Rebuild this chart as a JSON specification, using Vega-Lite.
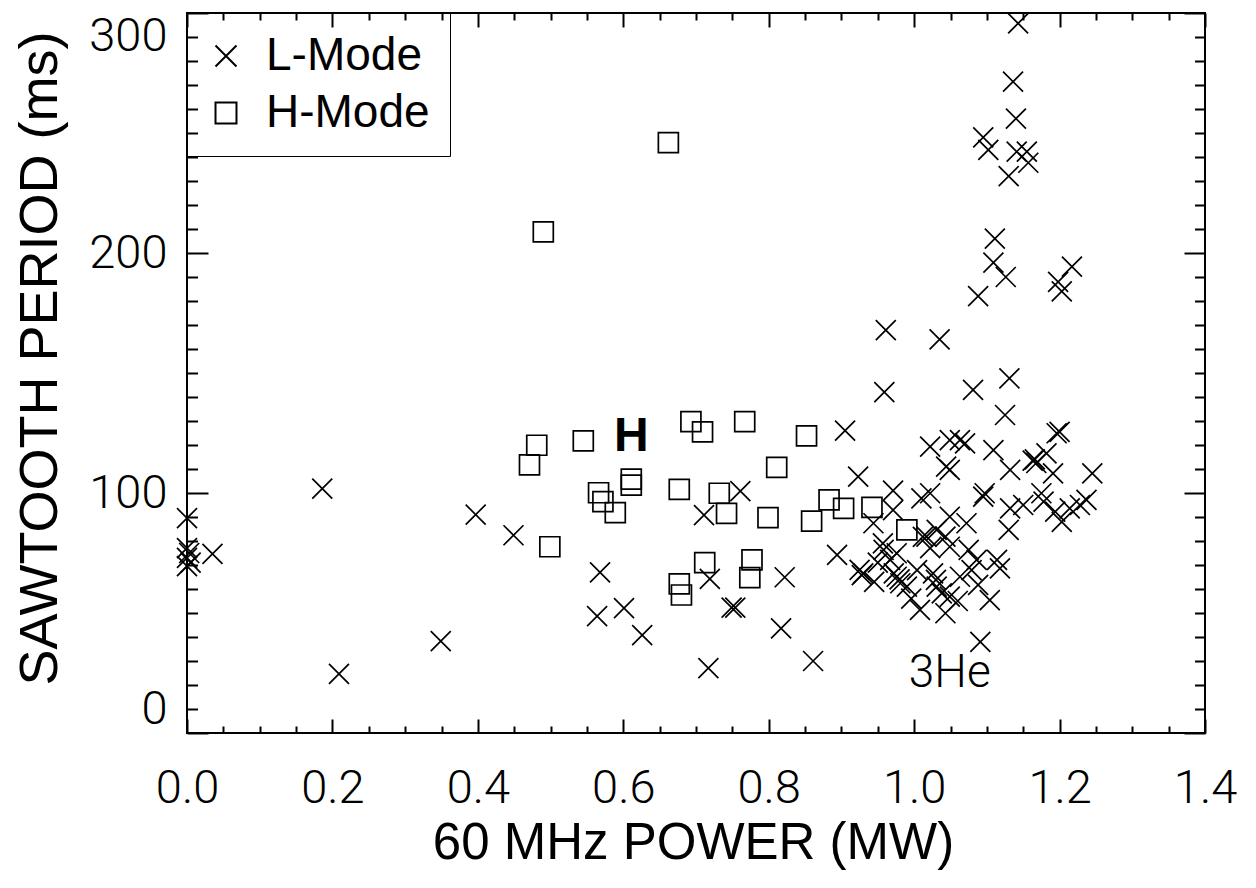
{
  "$schema": "https://vega.github.io/schema/vega-lite/v6.json",
  "width": 1018,
  "height": 720,
  "autosize": "none",
  "padding": {"left": 187, "top": 13, "right": 51, "bottom": 155},
  "background": "white",
  "config": {
    "view": {"stroke": "black", "strokeWidth": 2},
    "axis": {"grid": false, "domain": false, "tickColor": "black", "tickWidth": 2, "labelColor": "black", "titleColor": "black", "labelOverlap": false}
  },
  "datasets": {
    "points": [
      {"power": 0.0, "period": 89.5, "mode": "L-Mode"},
      {"power": 0.0, "period": 77, "mode": "L-Mode"},
      {"power": 0.003, "period": 75, "mode": "L-Mode"},
      {"power": 0.0, "period": 73, "mode": "L-Mode"},
      {"power": 0.005, "period": 71, "mode": "L-Mode"},
      {"power": 0.0, "period": 69.5, "mode": "L-Mode"},
      {"power": 0.035, "period": 74.6, "mode": "L-Mode"},
      {"power": 0.186, "period": 101.8, "mode": "L-Mode"},
      {"power": 0.209, "period": 24.6, "mode": "L-Mode"},
      {"power": 0.349, "period": 38.3, "mode": "L-Mode"},
      {"power": 0.397, "period": 91.0, "mode": "L-Mode"},
      {"power": 0.449, "period": 82.4, "mode": "L-Mode"},
      {"power": 0.568, "period": 66.9, "mode": "L-Mode"},
      {"power": 0.564, "period": 48.7, "mode": "L-Mode"},
      {"power": 0.601, "period": 52.0, "mode": "L-Mode"},
      {"power": 0.626, "period": 40.8, "mode": "L-Mode"},
      {"power": 0.711, "period": 90.8, "mode": "L-Mode"},
      {"power": 0.719, "period": 64.2, "mode": "L-Mode"},
      {"power": 0.717, "period": 27.0, "mode": "L-Mode"},
      {"power": 0.749, "period": 52.2, "mode": "L-Mode"},
      {"power": 0.754, "period": 52.2, "mode": "L-Mode"},
      {"power": 0.761, "period": 100.8, "mode": "L-Mode"},
      {"power": 0.817, "period": 43.6, "mode": "L-Mode"},
      {"power": 0.822, "period": 64.9, "mode": "L-Mode"},
      {"power": 0.861, "period": 30.0, "mode": "L-Mode"},
      {"power": 0.894, "period": 74.2, "mode": "L-Mode"},
      {"power": 0.905, "period": 126.0, "mode": "L-Mode"},
      {"power": 0.923, "period": 106.8, "mode": "L-Mode"},
      {"power": 0.928, "period": 65.8, "mode": "L-Mode"},
      {"power": 0.925, "period": 68.0, "mode": "L-Mode"},
      {"power": 0.945, "period": 63.0, "mode": "L-Mode"},
      {"power": 0.959, "period": 142.0, "mode": "L-Mode"},
      {"power": 0.961, "period": 167.9, "mode": "L-Mode"},
      {"power": 1.035, "period": 164.0, "mode": "L-Mode"},
      {"power": 1.081, "period": 143.0, "mode": "L-Mode"},
      {"power": 1.131, "period": 147.8, "mode": "L-Mode"},
      {"power": 1.125, "period": 132.5, "mode": "L-Mode"},
      {"power": 1.143, "period": 295.7, "mode": "L-Mode"},
      {"power": 1.136, "period": 271.4, "mode": "L-Mode"},
      {"power": 1.140, "period": 256.0, "mode": "L-Mode"},
      {"power": 1.095, "period": 248.2, "mode": "L-Mode"},
      {"power": 1.102, "period": 243.0, "mode": "L-Mode"},
      {"power": 1.141, "period": 242.2, "mode": "L-Mode"},
      {"power": 1.155, "period": 242.2, "mode": "L-Mode"},
      {"power": 1.157, "period": 237.6, "mode": "L-Mode"},
      {"power": 1.130, "period": 232.0, "mode": "L-Mode"},
      {"power": 1.111, "period": 206.0, "mode": "L-Mode"},
      {"power": 1.109, "period": 196.0, "mode": "L-Mode"},
      {"power": 1.126, "period": 190.0, "mode": "L-Mode"},
      {"power": 1.088, "period": 182.0, "mode": "L-Mode"},
      {"power": 1.198, "period": 188.0, "mode": "L-Mode"},
      {"power": 1.203, "period": 184.0, "mode": "L-Mode"},
      {"power": 1.217, "period": 194.3, "mode": "L-Mode"},
      {"power": 1.022, "period": 119.3, "mode": "L-Mode"},
      {"power": 1.049, "period": 122.0, "mode": "L-Mode"},
      {"power": 1.063, "period": 122.0, "mode": "L-Mode"},
      {"power": 1.070, "period": 120.7, "mode": "L-Mode"},
      {"power": 1.109, "period": 117.9, "mode": "L-Mode"},
      {"power": 1.163, "period": 113.5, "mode": "L-Mode"},
      {"power": 1.168, "period": 112.5, "mode": "L-Mode"},
      {"power": 1.166, "period": 114.0, "mode": "L-Mode"},
      {"power": 1.196, "period": 124.9, "mode": "L-Mode"},
      {"power": 1.200, "period": 125.5, "mode": "L-Mode"},
      {"power": 1.182, "period": 116.5, "mode": "L-Mode"},
      {"power": 1.132, "period": 109.6, "mode": "L-Mode"},
      {"power": 1.191, "period": 108.2, "mode": "L-Mode"},
      {"power": 1.245, "period": 108.2, "mode": "L-Mode"},
      {"power": 1.049, "period": 109.6, "mode": "L-Mode"},
      {"power": 1.044, "period": 111.0, "mode": "L-Mode"},
      {"power": 0.971, "period": 101.0, "mode": "L-Mode"},
      {"power": 1.010, "period": 97.8, "mode": "L-Mode"},
      {"power": 1.022, "period": 99.9, "mode": "L-Mode"},
      {"power": 1.097, "period": 99.9, "mode": "L-Mode"},
      {"power": 1.095, "period": 98.5, "mode": "L-Mode"},
      {"power": 1.132, "period": 93.6, "mode": "L-Mode"},
      {"power": 1.175, "period": 99.9, "mode": "L-Mode"},
      {"power": 1.150, "period": 95.0, "mode": "L-Mode"},
      {"power": 1.178, "period": 96.4, "mode": "L-Mode"},
      {"power": 1.194, "period": 92.2, "mode": "L-Mode"},
      {"power": 1.203, "period": 88.0, "mode": "L-Mode"},
      {"power": 1.214, "period": 93.6, "mode": "L-Mode"},
      {"power": 1.228, "period": 95.0, "mode": "L-Mode"},
      {"power": 1.237, "period": 97.1, "mode": "L-Mode"},
      {"power": 1.130, "period": 84.6, "mode": "L-Mode"},
      {"power": 0.944, "period": 87.4, "mode": "L-Mode"},
      {"power": 0.971, "period": 92.9, "mode": "L-Mode"},
      {"power": 0.957, "period": 79.0, "mode": "L-Mode"},
      {"power": 0.976, "period": 74.9, "mode": "L-Mode"},
      {"power": 1.012, "period": 81.7, "mode": "L-Mode"},
      {"power": 1.017, "period": 81.8, "mode": "L-Mode"},
      {"power": 1.031, "period": 84.6, "mode": "L-Mode"},
      {"power": 1.043, "period": 81.8, "mode": "L-Mode"},
      {"power": 1.049, "period": 90.1, "mode": "L-Mode"},
      {"power": 1.072, "period": 87.4, "mode": "L-Mode"},
      {"power": 1.022, "period": 77.0, "mode": "L-Mode"},
      {"power": 1.049, "period": 77.6, "mode": "L-Mode"},
      {"power": 1.075, "period": 76.3, "mode": "L-Mode"},
      {"power": 1.086, "period": 72.1, "mode": "L-Mode"},
      {"power": 1.114, "period": 72.1, "mode": "L-Mode"},
      {"power": 1.118, "period": 68.6, "mode": "L-Mode"},
      {"power": 1.079, "period": 67.9, "mode": "L-Mode"},
      {"power": 0.958, "period": 76.3, "mode": "L-Mode"},
      {"power": 0.967, "period": 72.1, "mode": "L-Mode"},
      {"power": 0.950, "period": 71.0, "mode": "L-Mode"},
      {"power": 0.930, "period": 66.5, "mode": "L-Mode"},
      {"power": 0.976, "period": 65.1, "mode": "L-Mode"},
      {"power": 0.972, "period": 66.5, "mode": "L-Mode"},
      {"power": 0.980, "period": 64.0, "mode": "L-Mode"},
      {"power": 0.981, "period": 62.4, "mode": "L-Mode"},
      {"power": 0.990, "period": 61.0, "mode": "L-Mode"},
      {"power": 0.996, "period": 56.0, "mode": "L-Mode"},
      {"power": 1.008, "period": 51.3, "mode": "L-Mode"},
      {"power": 1.004, "period": 67.9, "mode": "L-Mode"},
      {"power": 1.026, "period": 66.5, "mode": "L-Mode"},
      {"power": 1.030, "period": 63.8, "mode": "L-Mode"},
      {"power": 1.031, "period": 61.0, "mode": "L-Mode"},
      {"power": 1.038, "period": 58.2, "mode": "L-Mode"},
      {"power": 1.049, "period": 56.8, "mode": "L-Mode"},
      {"power": 1.060, "period": 55.0, "mode": "L-Mode"},
      {"power": 1.043, "period": 49.9, "mode": "L-Mode"},
      {"power": 1.063, "period": 65.1, "mode": "L-Mode"},
      {"power": 1.088, "period": 61.7, "mode": "L-Mode"},
      {"power": 1.104, "period": 55.4, "mode": "L-Mode"},
      {"power": 1.091, "period": 38.0, "mode": "L-Mode"},
      {"power": 0.662, "period": 246.0, "mode": "H-Mode"},
      {"power": 0.490, "period": 208.8, "mode": "H-Mode"},
      {"power": 0.481, "period": 119.9, "mode": "H-Mode"},
      {"power": 0.471, "period": 111.7, "mode": "H-Mode"},
      {"power": 0.545, "period": 121.7, "mode": "H-Mode"},
      {"power": 0.499, "period": 77.6, "mode": "H-Mode"},
      {"power": 0.693, "period": 129.7, "mode": "H-Mode"},
      {"power": 0.709, "period": 125.5, "mode": "H-Mode"},
      {"power": 0.767, "period": 129.7, "mode": "H-Mode"},
      {"power": 0.852, "period": 123.8, "mode": "H-Mode"},
      {"power": 0.811, "period": 110.7, "mode": "H-Mode"},
      {"power": 0.611, "period": 105.8, "mode": "H-Mode"},
      {"power": 0.611, "period": 103.3, "mode": "H-Mode"},
      {"power": 0.566, "period": 100.1, "mode": "H-Mode"},
      {"power": 0.572, "period": 96.4, "mode": "H-Mode"},
      {"power": 0.589, "period": 91.8, "mode": "H-Mode"},
      {"power": 0.677, "period": 101.5, "mode": "H-Mode"},
      {"power": 0.732, "period": 99.9, "mode": "H-Mode"},
      {"power": 0.742, "period": 91.5, "mode": "H-Mode"},
      {"power": 0.799, "period": 89.7, "mode": "H-Mode"},
      {"power": 0.859, "period": 88.3, "mode": "H-Mode"},
      {"power": 0.883, "period": 97.1, "mode": "H-Mode"},
      {"power": 0.903, "period": 93.6, "mode": "H-Mode"},
      {"power": 0.942, "period": 94.0, "mode": "H-Mode"},
      {"power": 0.990, "period": 84.6, "mode": "H-Mode"},
      {"power": 0.712, "period": 71.0, "mode": "H-Mode"},
      {"power": 0.777, "period": 72.1, "mode": "H-Mode"},
      {"power": 0.774, "period": 64.7, "mode": "H-Mode"},
      {"power": 0.677, "period": 62.1, "mode": "H-Mode"},
      {"power": 0.680, "period": 57.5, "mode": "H-Mode"}
    ],
    "noteH": [
      {"power": 0.611, "period": 123.3, "label": "H"}
    ],
    "noteHe": [
      {"power": 1.049, "period": 25.0, "label": "3He"}
    ]
  },
  "layer": [
    {
      "data": {"name": "points"},
      "mark": {"type": "point", "filled": false, "strokeWidth": 1.7, "size": 400, "opacity": 1},
      "encoding": {
        "x": {
          "field": "power", "type": "quantitative",
          "scale": {"domain": [0, 1.4], "nice": false, "zero": false},
          "axis": {
            "orient": "bottom",
            "title": "60 MHz POWER (MW)",
            "values": [0,0.05,0.1,0.15,0.2,0.25,0.3,0.35,0.4,0.45,0.5,0.55,0.6,0.65,0.7,0.75,0.8,0.85,0.9,0.95,1,1.05,1.1,1.15,1.2,1.25,1.3,1.35,1.4],
            "tickSize": {"condition": {"test": "abs(datum.value*5 - round(datum.value*5)) < 0.001", "value": -14}, "value": -7},
            "labelExpr": "abs(datum.value*5 - round(datum.value*5)) < 0.001 ? format(datum.value, '.1f') : ''",
            "labelFlush": false,
            "labelFont": "Roboto", "labelFontWeight": 300, "labelFontSize": 47, "labelPadding": 46,
            "titleFont": "Liberation Sans", "titleFontSize": 51, "titleFontWeight": "normal",
            "titleX": 506, "titleY": 110, "titleAlign": "center", "titleBaseline": "middle"
          }
        },
        "y": {
          "field": "period", "type": "quantitative",
          "scale": {"domain": [0, 300], "nice": false, "zero": false},
          "axis": {
            "orient": "left",
            "title": "SAWTOOTH PERIOD (ms)",
            "values": [0,10,20,30,40,50,60,70,80,90,100,110,120,130,140,150,160,170,180,190,200,210,220,230,240,250,260,270,280,290,300],
            "tickSize": {"condition": {"test": "datum.value % 100 === 0", "value": -21}, "value": -10.5},
            "labelExpr": "datum.value % 100 === 0 ? datum.label : ''",
            "labelFlush": true,
            "labelFont": "Roboto", "labelFontWeight": 300, "labelFontSize": 47, "labelPadding": 41,
            "titleFont": "Liberation Sans", "titleFontSize": 54, "titleFontWeight": "normal",
            "titleX": -147, "titleY": 345, "titleAlign": "center", "titleBaseline": "middle", "titleAngle": -90
          }
        },
        "shape": {
          "field": "mode", "type": "nominal",
          "scale": {"domain": ["L-Mode", "H-Mode"], "range": ["M-1,-1L1,1M-1,1L1,-1", "square"]},
          "legend": {
            "title": null,
            "orient": "none", "legendX": 0, "legendY": 0,
            "strokeColor": "black", "padding": 20,
            "labelFont": "Liberation Sans", "labelFontSize": 46, "labelColor": "black", "labelLimit": 500,
            "symbolSize": 440, "symbolStrokeWidth": 2, "symbolStrokeColor": "black",
            "rowPadding": 11, "symbolOffset": -4, "labelOffset": 17,
            "encode": {
              "legend": {"update": {"strokeWidth": {"value": 2}}},
              "labels": {"update": {"text": {"signal": "datum.label + '\u2002'"}}}
            }
          }
        },
        "color": {"value": "black"}
      }
    },
    {
      "data": {"name": "noteH"},
      "mark": {"type": "text", "font": "Liberation Sans", "fontWeight": "bold", "fontSize": 48, "color": "black", "align": "center", "baseline": "middle"},
      "encoding": {
        "x": {
          "field": "power", "type": "quantitative",
          "scale": {"domain": [0, 1.4], "nice": false, "zero": false},
          "axis": {
            "orient": "top", "title": null, "labels": false,
            "values": [0,0.05,0.1,0.15,0.2,0.25,0.3,0.35,0.4,0.45,0.5,0.55,0.6,0.65,0.7,0.75,0.8,0.85,0.9,0.95,1,1.05,1.1,1.15,1.2,1.25,1.3,1.35,1.4],
            "tickSize": {"condition": {"test": "abs(datum.value*5 - round(datum.value*5)) < 0.001", "value": -14}, "value": -7}
          }
        },
        "y": {
          "field": "period", "type": "quantitative",
          "scale": {"domain": [0, 300], "nice": false, "zero": false},
          "axis": {
            "orient": "right", "title": null, "labels": false,
            "values": [0,10,20,30,40,50,60,70,80,90,100,110,120,130,140,150,160,170,180,190,200,210,220,230,240,250,260,270,280,290,300],
            "tickSize": {"condition": {"test": "datum.value % 100 === 0", "value": -21}, "value": -10.5}
          }
        },
        "text": {"field": "label"}
      }
    },
    {
      "data": {"name": "noteHe"},
      "mark": {"type": "text", "font": "Roboto", "fontWeight": 300, "fontSize": 46, "color": "black", "align": "center", "baseline": "middle"},
      "encoding": {
        "x": {"field": "power", "type": "quantitative", "scale": {"domain": [0, 1.4], "nice": false, "zero": false}, "axis": null},
        "y": {"field": "period", "type": "quantitative", "scale": {"domain": [0, 300], "nice": false, "zero": false}, "axis": null},
        "text": {"field": "label"}
      }
    }
  ],
  "resolve": {"axis": {"x": "independent", "y": "independent"}}
}
